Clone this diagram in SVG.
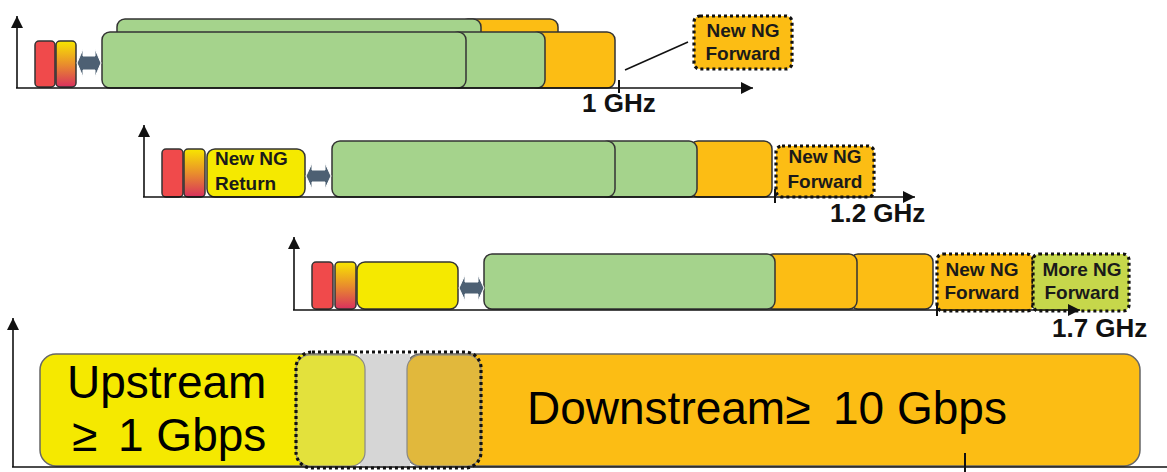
<svg xmlns="http://www.w3.org/2000/svg" width="1167" height="472" viewBox="0 0 1167 472">
<defs>
<linearGradient id="grad" x1="0" y1="0" x2="0" y2="1">
<stop offset="0" stop-color="#f8e600"/>
<stop offset="0.5" stop-color="#e98f2c"/>
<stop offset="1" stop-color="#d8305e"/>
</linearGradient>
<marker id="ah" markerUnits="userSpaceOnUse" markerWidth="12" markerHeight="12" refX="10" refY="5" orient="auto" viewBox="0 0 10 10">
<path d="M0,0 L10,5 L0,10 Z" fill="#111"/>
</marker>
<style>
.ax{stroke:#111;stroke-width:1.6;fill:none}
.tk{stroke:#111;stroke-width:2;fill:none}
.b{stroke:#333;stroke-width:1.5}
.red{fill:#f04a4b}
.gr{fill:url(#grad)}
.green{fill:#a5d38c}
.org{fill:#fcbd14}
.yel{fill:#f5e900}
.ng{fill:#c6d74b}
.dot{stroke:#111;stroke-width:3.2;stroke-dasharray:3 3}
.dar{fill:#4d6073;stroke:#fff;stroke-width:1}
.lbl{font-family:"Liberation Sans",Arial,sans-serif;font-size:19px;font-weight:bold;fill:#1a1a1a}
.ghz{font-family:"Liberation Sans",Arial,sans-serif;font-size:26px;font-weight:bold;fill:#111}
.big{font-family:"Liberation Sans",Arial,sans-serif;font-size:46px;fill:#000}
</style>
</defs>

<g id="row1">
<rect class="b red" x="35" y="41" width="20" height="46" rx="4"/>
<rect class="b gr" x="56" y="41" width="20" height="46" rx="4"/>
<rect class="b org" x="460" y="19" width="98" height="30" rx="8"/>
<rect class="b green" x="117" y="19" width="364" height="30" rx="8"/>
<rect class="b org" x="530" y="32" width="85" height="56" rx="8"/>
<rect class="b green" x="450" y="32" width="95" height="56" rx="8"/>
<rect class="b green" x="102" y="32" width="364" height="56" rx="8"/>
<path class="dar" d="M77,63 L83,49 L83,56 L95,56 L95,49 L101,63 L95,77 L95,70 L83,70 L83,77 Z"/>
</g>
<g id="row1-new">
<rect class="org dot" x="694" y="16" width="98" height="53" rx="6"/>
<text class="lbl" x="743" y="37" text-anchor="middle">New NG</text>
<text class="lbl" x="743" y="60" text-anchor="middle">Forward</text>
</g>

<g id="row2">
<rect class="b red" x="162" y="149" width="21" height="48" rx="4"/>
<rect class="b gr" x="184" y="149" width="21" height="48" rx="4"/>
<rect class="b yel" x="207" y="149" width="98" height="48" rx="8"/>
<text class="lbl" x="215" y="165">New NG</text>
<text class="lbl" x="215" y="190">Return</text>
<rect class="b org" x="690" y="141" width="82" height="56" rx="8"/>
<rect class="b green" x="600" y="141" width="97" height="56" rx="8"/>
<rect class="b green" x="332" y="141" width="283" height="56" rx="8"/>
<path class="dar" d="M306,176 L312,163 L312,170 L325,170 L325,163 L331,176 L325,189 L325,182 L312,182 L312,189 Z"/>
</g>
<g id="row2-new">
<rect class="org dot" x="776" y="146" width="98" height="51" rx="6"/>
<text class="lbl" x="825" y="163" text-anchor="middle">New NG</text>
<text class="lbl" x="825" y="188" text-anchor="middle">Forward</text>
</g>

<g id="row3">
<rect class="b red" x="312" y="262" width="21" height="47" rx="4"/>
<rect class="b gr" x="335" y="262" width="21" height="47" rx="4"/>
<rect class="b yel" x="357" y="262" width="101" height="47" rx="8"/>
<rect class="b org" x="850" y="254" width="83" height="55" rx="8"/>
<rect class="b org" x="765" y="254" width="92" height="55" rx="8"/>
<rect class="b green" x="484" y="254" width="291" height="55" rx="8"/>
<path class="dar" d="M459,288 L465,275 L465,282 L478,282 L478,275 L484,288 L478,301 L478,294 L465,294 L465,301 Z"/>
</g>
<g id="row3-new">
<rect class="org dot" x="937" y="254" width="96" height="57" rx="6"/>
<text class="lbl" x="982" y="276" text-anchor="middle">New NG</text>
<text class="lbl" x="982" y="299" text-anchor="middle">Forward</text>
</g>
<g id="row3-more">
<rect class="ng dot" x="1033" y="254" width="96" height="57" rx="6"/>
<text class="lbl" x="1082" y="276" text-anchor="middle">More NG</text>
<text class="lbl" x="1082" y="299" text-anchor="middle">Forward</text>
</g>

<g id="band">
<rect x="405" y="354" width="735" height="112" rx="16" fill="#fcbd14" stroke="#666" stroke-width="1.5"/>
<rect x="40" y="354" width="325" height="112" rx="16" fill="#f5e900" stroke="#666" stroke-width="1.5"/>
<rect x="360" y="354" width="50" height="112" fill="#d6d6d6"/>
<rect x="296" y="355" width="69" height="111" rx="14" fill="#e3e13c" stroke="#888" stroke-width="1.2"/>
<rect x="407" y="355" width="74" height="111" rx="14" fill="#e1b83c" stroke="#888" stroke-width="1.2"/>
<rect x="296" y="352" width="185" height="116" rx="16" fill="none" class="dot"/>
<text class="big" x="67" y="398">Upstream</text>
<text class="big" y="451"><tspan x="72">≥</tspan><tspan x="118">1 Gbps</tspan></text>
<text class="big" y="424" font-size="47"><tspan x="527">Downstream≥</tspan><tspan x="833">10 Gbps</tspan></text>
</g>

<g id="connectors">
<path class="ax" d="M17,88 V16" marker-end="url(#ah)"/>
<path class="ax" d="M16,88 H753" marker-end="url(#ah)"/>
<path class="tk" d="M619,80 V93"/>
<path class="ax" d="M625,70 L688,42"/>
<path class="ax" d="M144,197 V125" marker-end="url(#ah)"/>
<path class="ax" d="M143,197 H915" marker-end="url(#ah)"/>
<path class="tk" d="M775,189 V203"/>
<path class="ax" d="M294,310 V237" marker-end="url(#ah)"/>
<path class="ax" d="M293,310 H1080" marker-end="url(#ah)"/>
<path class="tk" d="M937,303 V316"/>
<path class="ax" d="M13,467 V318" marker-end="url(#ah)"/>
<path class="ax" d="M12,467 H1167"/>
<path class="tk" d="M965,453 V472"/>
</g>

<g id="labels">
<text class="ghz" x="582" y="112">1 GHz</text>
<text class="ghz" x="830" y="222">1.2 GHz</text>
<text class="ghz" x="1052" y="337">1.7 GHz</text>
</g>
</svg>
